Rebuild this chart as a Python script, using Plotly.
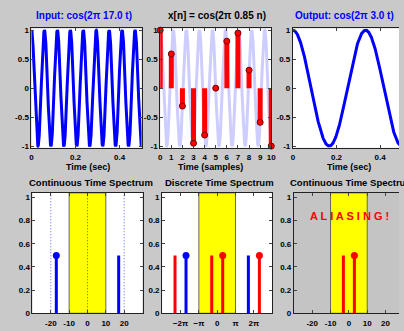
import numpy as np
import plotly.graph_objects as go

W, H = 404, 331

# ---------------- data ----------------
f_in = 17.0          # input frequency (Hz)
f_out = 3.0          # reconstructed output frequency (Hz)
f_dt = 0.85          # normalized discrete frequency
t_end = 0.5          # seconds shown
n_end = 10           # samples shown

n_samples = [0, 1, 2, 3, 4, 5, 6, 7, 8, 9, 10]
xn_values = [1.0, 0.59, -0.31, -0.95, -0.81, 0.0, 0.81, 0.95, 0.31, -0.59, -1.0]

ct_in_freqs = [-17, 17]
ct_in_amps = [0.5, 0.5]
ct_in_dots = [True, False]
ct_guides = [-20, 0, 20]
band_ct = [-10, 10]

dt_red_freqs = [-2.3, -0.3, 0.3, 2.3]      # units of pi
dt_red_amps = [0.5, 0.5, 0.5, 0.5]
dt_red_dots = [False, False, True, True]
dt_blue_freqs = [-1.7, 1.7]                # units of pi
dt_blue_amps = [0.5, 0.5]
dt_blue_dots = [True, False]
band_dt = [-1, 1]                          # units of pi

ct_out_freqs = [-3, 3]
ct_out_amps = [0.5, 0.5]
ct_out_dots = [False, True]

top_titles = ["Input: cos(2\u03c0 17.0 t)", "x[n] = cos(2\u03c0 0.85 n)", "Output: cos(2\u03c0 3.0 t)"]
top_title_colors = ["#0000ff", "#000000", "#0000ff"]
top_xlabels = ["Time (sec)", "Time (samples)", "Time (sec)"]
bottom_titles = ["Continuous Time Spectrum", "Discrete Time Spectrum", "Continuous Time Spectrum"]
alias_text = "A L I A S I N G !"

PI = np.pi

# ---------------- helpers ----------------
def px_x(p):
    return p / W

def px_y(p):
    return 1 - p / H

def stems(xs, ys):
    X, Y = [], []
    for x, y in zip(xs, ys):
        X += [x, x, None]
        Y += [0, y, None]
    return X, Y

FONT = "Liberation Sans, Arial, sans-serif"
tickfont = dict(family=FONT, size=8, color="#000", weight="bold")
BLUE = "#0000ff"
RED = "#ff0000"
LIGHT = "#cdcdff"

fig = go.Figure()

boxes = {
    1: (30, 142, 27, 149),
    2: (161, 274, 27, 149),
    3: (296, 407, 27, 149),
    4: (31, 143, 195, 318),
    5: (163, 275, 195, 318),
    6: (297, 409, 195, 318),
}

def xr_clip(k, r0, r1):
    l, r, t, b = boxes[k]
    if r > W:
        return [r0, r0 + (r1 - r0) * (W - l) / (r - l)], [px_x(l), 1.0]
    return [r0, r1], [px_x(l), px_x(r)]

# ---- panel 1: input ----
t = np.linspace(0, t_end, 1200)
fig.add_trace(go.Scatter(x=t, y=np.cos(2 * PI * f_in * t), mode="lines",
                         line=dict(color=BLUE, width=3), xaxis="x", yaxis="y"))

# ---- panel 2: samples ----
tc = np.linspace(0, n_end, 1200)
fig.add_trace(go.Scatter(x=tc, y=np.cos(2 * PI * f_dt * tc), mode="lines",
                         line=dict(color=LIGHT, width=3), xaxis="x2", yaxis="y2"))
sx, sy = stems(n_samples, xn_values)
fig.add_trace(go.Scatter(x=sx, y=sy, mode="lines", line=dict(color=RED, width=5),
                         xaxis="x2", yaxis="y2"))
fig.add_trace(go.Scatter(x=n_samples, y=xn_values, mode="markers", cliponaxis=False,
                         marker=dict(color=RED, size=6, line=dict(color="#700", width=1)),
                         xaxis="x2", yaxis="y2"))

# ---- panel 3: output ----
t3 = np.linspace(0, t_end, 800)
fig.add_trace(go.Scatter(x=t3, y=np.cos(2 * PI * f_out * t3), mode="lines",
                         line=dict(color=BLUE, width=3), xaxis="x3", yaxis="y3"))

# ---- panel 4: CT spectrum of input ----
gx, gy = [], []
for g in ct_guides:
    gx += [g, g, None]
    gy += [0, 2, None]
fig.add_trace(go.Scatter(x=gx, y=gy, mode="lines",
                         line=dict(color="#5a5aff", width=1, dash="1px,2px"),
                         xaxis="x4", yaxis="y4"))
sx, sy = stems(ct_in_freqs, ct_in_amps)
fig.add_trace(go.Scatter(x=sx, y=sy, mode="lines", line=dict(color=BLUE, width=3),
                         xaxis="x4", yaxis="y4"))
fig.add_trace(go.Scatter(x=[f for f, d in zip(ct_in_freqs, ct_in_dots) if d],
                         y=[a for a, d in zip(ct_in_amps, ct_in_dots) if d],
                         mode="markers", marker=dict(color=BLUE, size=7),
                         xaxis="x4", yaxis="y4"))

# ---- panel 5: DT spectrum ----
sx, sy = stems([f * PI for f in dt_red_freqs], dt_red_amps)
fig.add_trace(go.Scatter(x=sx, y=sy, mode="lines", line=dict(color=RED, width=3),
                         xaxis="x5", yaxis="y5"))
sx, sy = stems([f * PI for f in dt_blue_freqs], dt_blue_amps)
fig.add_trace(go.Scatter(x=sx, y=sy, mode="lines", line=dict(color=BLUE, width=3),
                         xaxis="x5", yaxis="y5"))
fig.add_trace(go.Scatter(x=[f * PI for f, d in zip(dt_red_freqs, dt_red_dots) if d],
                         y=[a for a, d in zip(dt_red_amps, dt_red_dots) if d],
                         mode="markers", marker=dict(color=RED, size=7),
                         xaxis="x5", yaxis="y5"))
fig.add_trace(go.Scatter(x=[f * PI for f, d in zip(dt_blue_freqs, dt_blue_dots) if d],
                         y=[a for a, d in zip(dt_blue_amps, dt_blue_dots) if d],
                         mode="markers", marker=dict(color=BLUE, size=7),
                         xaxis="x5", yaxis="y5"))

# ---- panel 6: CT spectrum of output ----
sx, sy = stems(ct_out_freqs, ct_out_amps)
fig.add_trace(go.Scatter(x=sx, y=sy, mode="lines", line=dict(color=RED, width=3),
                         xaxis="x6", yaxis="y6"))
fig.add_trace(go.Scatter(x=[f for f, d in zip(ct_out_freqs, ct_out_dots) if d],
                         y=[a for a, d in zip(ct_out_amps, ct_out_dots) if d],
                         mode="markers", marker=dict(color=RED, size=7),
                         xaxis="x6", yaxis="y6"))

# ---------------- axes ----------------
def ax_common(mirror=True):
    return dict(showgrid=False, zeroline=False, showline=True, linecolor="#222", linewidth=1,
                mirror="allticks" if mirror else False, ticks="inside", ticklen=3,
                tickcolor="#444", tickfont=tickfont, fixedrange=True)

lay = {}
ranges = {
    1: (0, 0.5), 2: (0, 10), 3: (0, 0.5),
    4: (-30, 30), 5: (-3 * PI, 3 * PI), 6: (-30, 30),
}
xticks = {
    1: ([0, 0.2, 0.4], ["0", "0.2", "0.4"]),
    2: (n_samples, [str(v) for v in n_samples]),
    3: ([0, 0.2, 0.4], ["0", "0.2", "0.4"]),
    4: ([-20, -10, 0, 10, 20], ["-20", "-10", "0", "10", "20"]),
    5: ([-2 * PI, -PI, 0, PI, 2 * PI], ["\u22122\u03c0", "\u2212\u03c0", "0", "\u03c0", "2\u03c0"]),
    6: ([-20, -10, 0, 10, 20], ["-20", "-10", "0", "10", "20"]),
}
ytop = ([-1, -0.5, 0, 0.5, 1], ["-1", "-0.5", "0", "0.5", "1"])
ybot = ([0, 0.2, 0.4, 0.6, 0.8, 1], ["0", "0.2", "0.4", "0.6", "0.8", "1"])

for k in range(1, 7):
    l, r, tp, bt = boxes[k]
    xr, xd = xr_clip(k, *ranges[k])
    clipped = r > W
    xa = ax_common(True)
    xa.update(domain=xd, range=xr, anchor="y" if k == 1 else "y%d" % k,
              tickvals=xticks[k][0], ticktext=xticks[k][1], ticklabelstandoff=2)
    ya = ax_common(not clipped)
    yv = ytop if k <= 3 else ybot
    ya.update(domain=[px_y(bt), px_y(tp)], range=[-1.03, 1.03] if k <= 3 else [0, 1.04],
              anchor="x" if k == 1 else "x%d" % k, tickvals=yv[0], ticktext=yv[1],
              ticklabelstandoff=0)
    lay["xaxis" if k == 1 else "xaxis%d" % k] = xa
    lay["yaxis" if k == 1 else "yaxis%d" % k] = ya

# ---------------- shapes ----------------
shapes = [
    dict(type="rect", xref="x6 domain", yref="y6 domain", x0=0, x1=1, y0=0, y1=1,
         fillcolor="#c4c4c4", line=dict(width=0), layer="below"),
    dict(type="rect", xref="x4", yref="y4 domain", x0=band_ct[0], x1=band_ct[1], y0=0, y1=1,
         fillcolor="#ffff00", line=dict(color="#666", width=1), layer="below"),
    dict(type="rect", xref="x5", yref="y5 domain", x0=band_dt[0] * PI, x1=band_dt[1] * PI, y0=0, y1=1,
         fillcolor="#ffff00", line=dict(color="#666", width=1), layer="below"),
    dict(type="rect", xref="x6", yref="y6 domain", x0=band_ct[0], x1=band_ct[1], y0=0, y1=1,
         fillcolor="#ffff00", line=dict(color="#666", width=1), layer="below"),
]

# ---------------- annotations ----------------
ann = []
left_top = [33, 167, 296]
left_xl = [63, 177, 329]
left_bot = [25, 164, 291]
for i in range(3):
    ann.append(dict(text=top_titles[i], x=px_x(left_top[i]), y=px_y(14), xref="paper", yref="paper",
                    showarrow=False, xanchor="left", yanchor="middle",
                    font=dict(family=FONT, size=10, color=top_title_colors[i], weight="bold")))
    ann.append(dict(text=top_xlabels[i], x=px_x(left_xl[i]), y=px_y(169), xref="paper", yref="paper",
                    showarrow=False, xanchor="left", yanchor="middle",
                    font=dict(family=FONT, size=9, color="#000", weight="bold")))
    ann.append(dict(text=bottom_titles[i], x=px_x(left_bot[i]), y=px_y(184), xref="paper", yref="paper",
                    showarrow=False, xanchor="left", yanchor="middle",
                    font=dict(family=FONT, size=9.5, color="#000", weight="bold")))
ann.append(dict(text=alias_text, x=px_x(311), y=0.84, xref="paper", yref="y6", showarrow=False,
                xanchor="left", yanchor="middle",
                font=dict(family=FONT, size=11, color=RED, weight="bold")))

fig.update_layout(
    width=W, height=H, margin=dict(l=0, r=0, t=0, b=0),
    paper_bgcolor="#c9c9c9", plot_bgcolor="#ffffff",
    showlegend=False, shapes=shapes, annotations=ann, **lay,
)

fig.write_html(
    "out.html",
    config={"displayModeBar": False, "staticPlot": True},
    post_script="document.body.style.margin='0';document.body.style.overflow='hidden';",
)
